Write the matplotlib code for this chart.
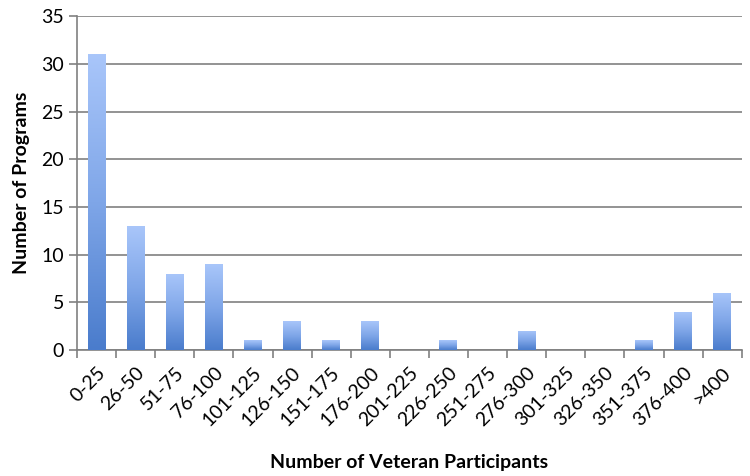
import numpy as np
import matplotlib
matplotlib.use("Agg")
import matplotlib.pyplot as plt
from matplotlib.colors import LinearSegmentedColormap

categories = ["0-25", "26-50", "51-75", "76-100", "101-125", "126-150", "151-175",
              "176-200", "201-225", "226-250", "251-275", "276-300", "301-325",
              "326-350", "351-375", "376-400", ">400"]
programs = [31, 13, 8, 9, 1, 3, 1, 3, 0, 1, 0, 2, 0, 0, 1, 4, 6]

plt.rcParams['font.family'] = ['Lato', 'DejaVu Sans']

fig = plt.figure(figsize=(7.5, 4.76), dpi=100)
ax = fig.add_axes([0.1027, 0.2647, 0.8863, 0.7013])

grad = LinearSegmentedColormap.from_list("bluegrad", ["#4a7ccc", "#7fa6e8", "#a9c6fa"])
g = np.linspace(0, 1, 256).reshape(-1, 1)

x = np.arange(len(categories))
width = 0.46
bars = ax.bar(x, programs, width=width, color="none", edgecolor="none", zorder=3)
for b, v in zip(bars, programs):
    if v <= 0:
        continue
    x0 = b.get_x()
    im = ax.imshow(g, cmap=grad, aspect="auto", origin="lower",
                   extent=[x0, x0 + width, 0, v], zorder=3, interpolation="bilinear")
    im.set_clip_path(b)

ax.set_xlim(-0.5, len(categories) - 0.5)
ax.set_ylim(0, 35)
ax.set_yticks(range(0, 36, 5))
ax.set_xticks(np.arange(len(categories) + 1) - 0.5, minor=False)
ax.set_xticklabels([])
ax.set_xticks(x, minor=True)
ax.set_xticklabels(categories, minor=True, rotation=45, ha="right",
                   rotation_mode="anchor", fontsize=14)
ax.tick_params(axis="x", which="minor", length=0, pad=10)
ax.tick_params(axis="x", which="major", length=6, width=1.2, color="#808080")
ax.tick_params(axis="y", length=6, width=1.2, color="#808080", labelsize=14)

ax.grid(axis="y", color="#808080", linewidth=1.2, zorder=0)
ax.set_axisbelow(True)
for s in ["top", "right"]:
    ax.spines[s].set_visible(False)
for s in ["left", "bottom"]:
    ax.spines[s].set_color("#808080")
    ax.spines[s].set_linewidth(1.2)

ax.set_ylabel("Number of Programs", fontsize=14, fontweight="bold", labelpad=8)
ax.set_xlabel("Number of Veteran Participants", fontsize=14, fontweight="bold", labelpad=18)

fig.savefig("out.png", dpi=100)
